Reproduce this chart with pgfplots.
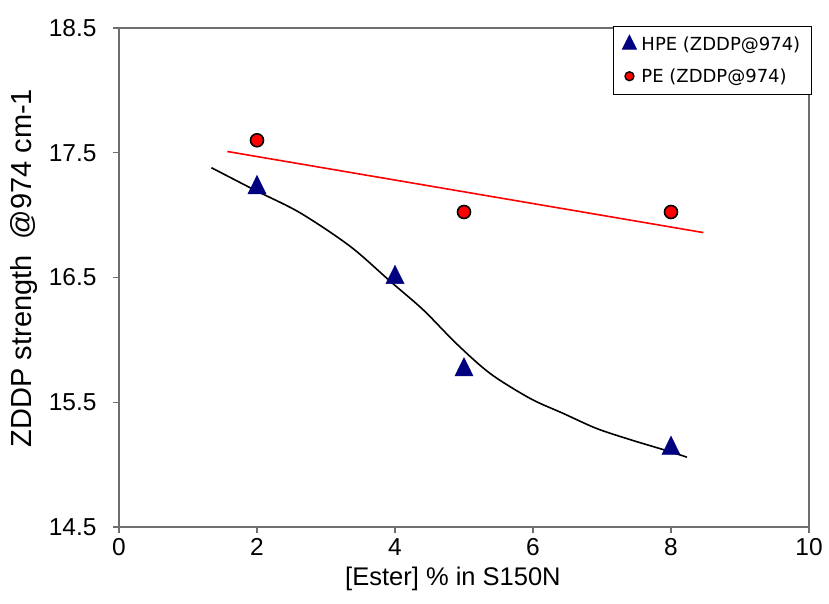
\documentclass[border=0pt]{standalone}
\usepackage{pgfplots}
\pgfplotsset{compat=1.18}
\usepackage{fontspec}
\setmainfont{Liberation Sans}
\newfontfamily\legfont{DejaVu Sans}
\definecolor{navyb}{RGB}{0,0,128}
\definecolor{axgray}{RGB}{110,110,110}
\begin{document}
\begin{tikzpicture}
\path[use as bounding box] (-119pt,-77pt) rectangle (710pt,527pt);
\begin{axis}[
  at={(0pt,0pt)}, anchor=south west,
  scale only axis, width=690pt, height=499pt,
  xmin=0, xmax=10, ymin=14.5, ymax=18.5,
  xtick={0,2,4,6,8,10},
  ytick={14.5,15.5,16.5,17.5,18.5},
  axis line style={draw=axgray, line width=1.2pt},
  tick style={draw=axgray, line width=1.2pt},
  tick align=outside, major tick length=6pt,
  xtick pos=lower, ytick pos=left,
  /pgf/number format/assume math mode=true,
  tick label style={font=\fontsize{24.5}{28}\selectfont},
  yticklabel style={/pgf/number format/fixed, /pgf/number format/fixed zerofill, /pgf/number format/precision=1, xshift=-13pt},
  xticklabel style={yshift=-2pt},
  xlabel={[Ester] \% in S150N},
  ylabel={ZDDP strength \ @974 cm-1},
  xlabel style={font=\fontsize{25.5}{28}\selectfont, at={(axis description cs:0.484,-0.104)}, anchor=center},
  ylabel style={font=\fontsize{29}{31}\selectfont, at={(axis description cs:-0.1377,0.519)}, anchor=center},
  legend style={at={(1.004,1.004)}, anchor=north east, draw=black, line width=1pt,
    font=\legfont\fontsize{18}{21}\selectfont, inner xsep=9pt, inner ysep=8.5pt,
    row sep=12.5pt, cells={anchor=west}},
  legend cell align=left,
  legend image code/.code={%
    \path[draw=none, fill=none] (0pt,-1pt) rectangle (16pt,1pt);
    \path[#1, draw=none, fill=none] plot[mark repeat=2, mark phase=2] coordinates {(0pt,0pt) (6pt,0pt) (16pt,0pt)};},
]
\addlegendimage{mark=triangle*, mark size=8pt, mark options={fill=navyb, draw=navyb, yscale=1.15}}
\addlegendentry{HPE (ZDDP@974)}
\addlegendimage{mark=*, mark size=4.5pt, mark options={fill=red, draw=black, line width=1.3pt}}
\addlegendentry{PE (ZDDP@974)}
\addplot[only marks, mark=triangle*, mark size=10.5pt, mark options={fill=navyb, draw=navyb, yscale=1.17}, forget plot]
  coordinates {(2,17.22) (4,16.50) (5,15.76) (8,15.13)};
\addplot[only marks, mark=*, mark size=6.5pt, mark options={fill=red, draw=black, line width=1.6pt}, forget plot]
  coordinates {(2,17.60) (5,17.025) (8,17.025)};
\addplot[red, line width=1.6pt, forget plot] coordinates {(1.57,17.51) (8.47,16.86)};
\addplot[black, line width=1.6pt, smooth, forget plot] coordinates {
  (1.34,17.38) (1.97,17.20) (2.62,17.02) (3.35,16.75) (3.93,16.47) (4.41,16.24)
  (4.89,15.97) (5.38,15.73) (5.96,15.53) (6.44,15.41) (6.92,15.29) (7.41,15.20)
  (7.89,15.12) (8.23,15.06)};
\end{axis}
\end{tikzpicture}
\end{document}
